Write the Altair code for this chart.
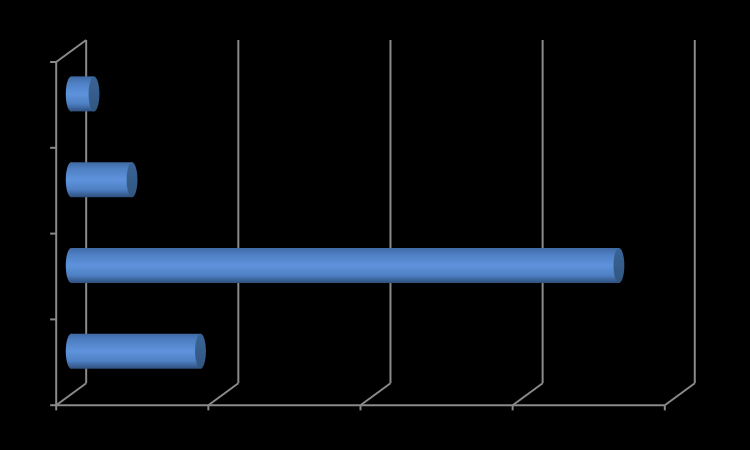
import altair as alt
import pandas as pd

categories = ["A", "B", "C", "D"]
values = [4.25, 18.0, 2.0, 0.75]
x_ticks = [0, 5, 10, 15, 20]
y_ticks = [0, 1, 2, 3, 4]

X_MAX = 20
DEPTH_X = 0.985
DEPTH_Y = 0.2566
HALF = 0.204

x_scale = alt.Scale(domain=[0, X_MAX], range=[48.2, 656.8], nice=False, zero=False)
y_scale = alt.Scale(domain=[0, 4], range=[397.2, 54], nice=False, zero=False)
X = lambda f: alt.X(f, type="quantitative", scale=x_scale, axis=None, title=None)
Y = lambda f: alt.Y(f, type="quantitative", scale=y_scale, axis=None, title=None)

bars = pd.DataFrame({
    "cat": categories,
    "x0": [DEPTH_X / 2] * 4,
    "x1": [v + DEPTH_X / 2 for v in values],
    "yc": [i + 0.5 + DEPTH_Y / 2 for i in range(len(values))],
})
bars["y0"] = bars.yc - HALF
bars["y1"] = bars.yc + HALF

segments = []
# front axes
segments.append(dict(x=0, x2=X_MAX, y=0, y2=0))
segments.append(dict(x=0, x2=0, y=0, y2=4))
# back verticals and floor diagonals
for t in x_ticks:
    segments.append(dict(x=t + DEPTH_X, x2=t + DEPTH_X, y=DEPTH_Y, y2=4 + DEPTH_Y))
    segments.append(dict(x=t, x2=t + DEPTH_X, y=0, y2=DEPTH_Y))
    segments.append(dict(x=t, x2=t, y=0, y2=-0.06))
# wall top diagonal
segments.append(dict(x=0, x2=DEPTH_X, y=4, y2=4 + DEPTH_Y))
for t in y_ticks:
    segments.append(dict(x=-0.2, x2=0, y=t, y2=t))
seg = pd.DataFrame(segments)

GREY = "#8a8a8a"
grid = alt.Chart(seg).mark_rule(color=GREY, strokeWidth=2).encode(
    x=X("x"), x2="x2", y=Y("y"), y2="y2"
)

body_grad = alt.Gradient(
    gradient="linear", x1=0, y1=0, x2=0, y2=1,
    stops=[
        alt.GradientStop(offset=0, color="#3f69a3"),
        alt.GradientStop(offset=0.18, color="#4e7fc3"),
        alt.GradientStop(offset=0.5, color="#5e93dc"),
        alt.GradientStop(offset=0.78, color="#4e80c4"),
        alt.GradientStop(offset=1, color="#2e4f7c"),
    ],
)
cap_grad = alt.Gradient(
    gradient="linear", x1=0, y1=0, x2=0, y2=1,
    stops=[
        alt.GradientStop(offset=0, color="#3a6496"),
        alt.GradientStop(offset=1, color="#315680"),
    ],
)
ELLIPSE = "M0,-1 C0.17,-1 0.31,-0.55 0.31,0 C0.31,0.55 0.17,1 0,1 C-0.17,1 -0.31,0.55 -0.31,0 C-0.31,-0.55 -0.17,-1 0,-1 Z"

left = alt.Chart(bars).mark_point(
    shape=ELLIPSE, size=1225, filled=True, fill=body_grad, opacity=1, strokeWidth=0
).encode(x=X("x0"), y=Y("yc"))
body = alt.Chart(bars).mark_rect(fill=body_grad).encode(
    x=X("x0"), x2="x1", y=Y("y0"), y2="y1"
)
cap = alt.Chart(bars).mark_point(
    shape=ELLIPSE, size=1225, filled=True, fill=cap_grad, opacity=1, strokeWidth=0
).encode(x=X("x1"), y=Y("yc"))

chart = (grid + left + body + cap).properties(
    width=734, height=434, background="#000000", padding=0,
    autosize=alt.AutoSizeParams(type="none"),
).configure_view(stroke=None)

chart.save("out.html", embed_options={"renderer": "svg", "actions": False, "defaultStyle": "html,body{background:#000;}"})
